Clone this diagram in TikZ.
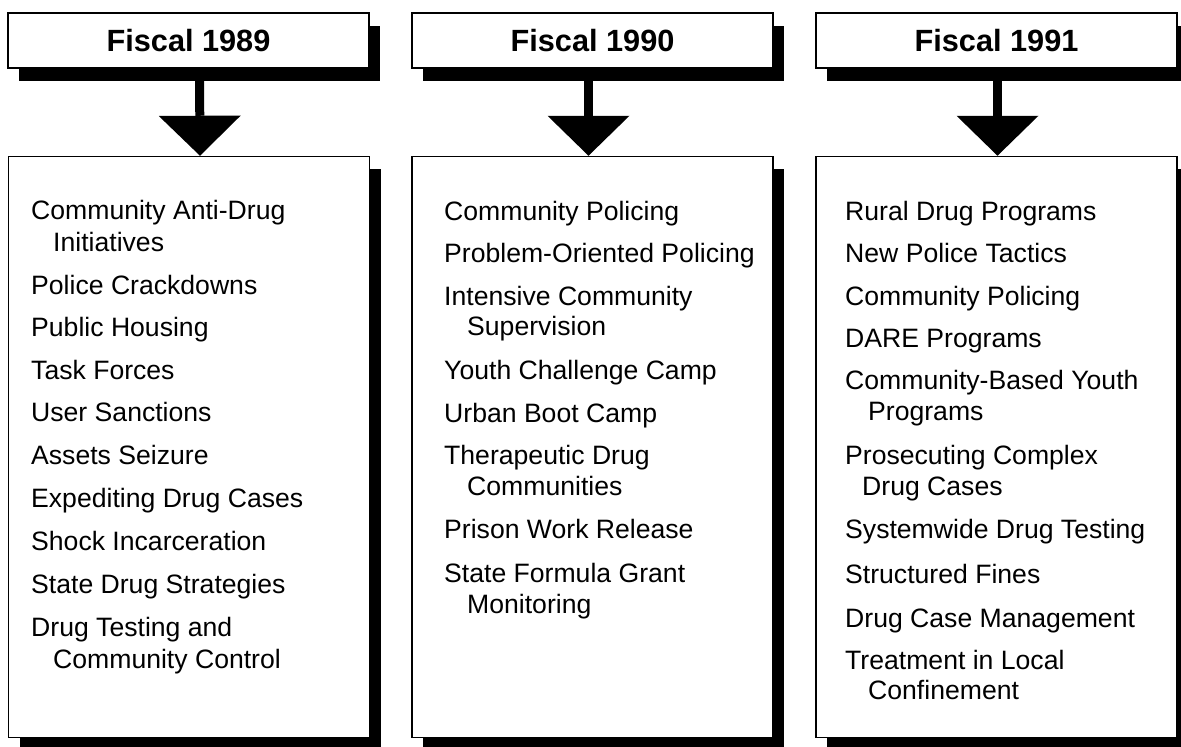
\documentclass[tikz,border=0pt]{standalone}
\usepackage{fontspec}
\setmainfont{Liberation Sans}
\usetikzlibrary{arrows.meta,shadows}

\tikzset{
  fiscal/.style={draw,line width=1.5pt,fill=white,minimum width=361pt,minimum height=55pt,inner sep=0pt,
    font=\fontsize{30.7}{36}\selectfont\bfseries,
    drop shadow={shadow xshift=11pt,shadow yshift=-13pt,fill=black,opacity=1}},
  panel/.style={draw,line width=1.5pt,fill=white,minimum width=361pt,minimum height=581pt,inner sep=0pt,
    drop shadow={shadow xshift=11pt,shadow yshift=-12pt,fill=black,opacity=1}},
  entry/.style={anchor=base west,inner sep=0pt,font=\fontsize{26.6}{31}\selectfont},
  bigarrow/.style={line width=9pt,-{Triangle[width=82pt,length=40pt,line width=0pt]}}
}

\begin{document}
\begin{tikzpicture}[x=1pt,y=-1pt]
                \useasboundingbox (0,0) rectangle (1181,747);
                \clip (0,0) rectangle (1181,747);
                \foreach \x/\n/\t in {188.5/fy89/Fiscal 1989, 592.5/fy90/Fiscal 1990, 996.5/fy91/Fiscal 1991}
                \node[fiscal] (\n) at (\x,40.5) {\t};
                \foreach \x/\n in {189/p89, 592.5/p90, 996.5/p91}
                \node[panel] (\n) at (\x,447) {};
                \foreach \s/\t/\d in {fy89/p89/11, fy90/p90/-4, fy91/p91/1}
                \draw[bigarrow] ([xshift=\d pt]\s.south) -- ([xshift=\d pt]\t.north);
                % fiscal 1989
                \foreach \x/\y/\n/\t in {31/219/a1/Community Anti-Drug, 53/251/a2/Initiatives, 31/294/a3/Police Crackdowns,
                  31/336/a4/Public Housing, 31/379/a5/Task Forces, 31/421/a6/User Sanctions, 31/464/a7/Assets Seizure,
                  31/507/a8/Expediting Drug Cases, 31/550/a9/Shock Incarceration, 31/593/a10/State Drug Strategies,
                  31/636/a11/Drug Testing and, 53/668/a12/Community Control}
                \node[entry] (\n) at (\x,\y) {\t};
                % fiscal 1990
                \foreach \x/\y/\n/\t in {444/220/b1/Community Policing, 444/262/b2/Problem-Oriented Policing,
                  444/305/b3/Intensive Community, 467/335/b4/Supervision, 444/379/b5/Youth Challenge Camp,
                  444/422/b6/Urban Boot Camp, 444/464/b7/Therapeutic Drug, 467/495/b8/Communities,
                  444/538/b9/Prison Work Release, 444/582/b10/State Formula Grant, 467/613/b11/Monitoring}
                \node[entry] (\n) at (\x,\y) {\t};
                % fiscal 1991
                \foreach \x/\y/\n/\t in {845/220/c1/Rural Drug Programs, 845/262/c2/New Police Tactics,
                  845/305/c3/Community Policing, 845/347/c4/DARE Programs, 845/389/c5/Community-Based Youth,
                  868/420/c6/Programs, 845/464/c7/Prosecuting Complex, 862/495/c8/Drug Cases,
                  845/538/c9/Systemwide Drug Testing, 845/583/c10/Structured Fines, 845/627/c11/Drug Case Management,
                  845/669/c12/Treatment in Local, 868/699/c13/Confinement}
                \node[entry] (\n) at (\x,\y) {\t};
            \end{tikzpicture}
\end{document}
